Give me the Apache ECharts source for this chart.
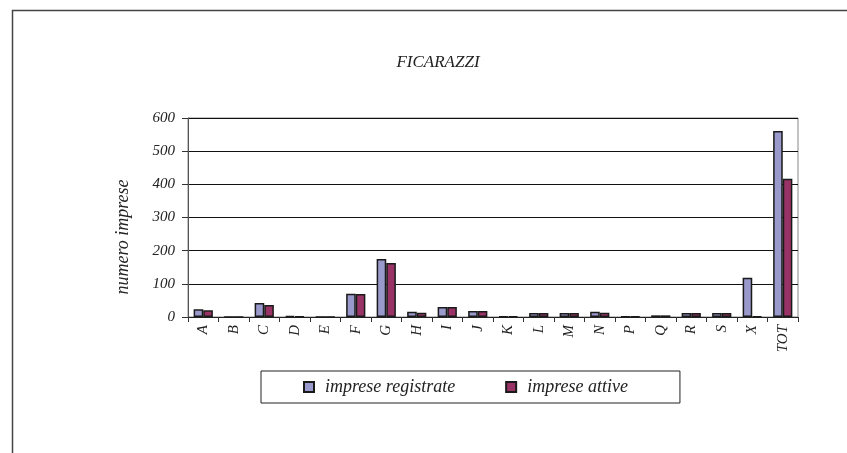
<!DOCTYPE html>
<html>
<head>
<meta charset="utf-8">
<script src="https://cdn.jsdelivr.net/npm/echarts@6/dist/echarts.min.js"></script>
<style>html,body{margin:0;padding:0;background:#fff}#c{width:847px;height:453px}</style>
</head>
<body>
<div id="c"></div>
<script>
const categories = ['A','B','C','D','E','F','G','H','I','J','K','L','M','N','P','Q','R','S','X','TOT'];
const registrate = [23,0,42,3,0,70,175,16,30,18,2,12,12,16,2,5,12,12,118,561];
const attive =     [20,0,36,2,0,69,163,13,30,18,2,12,12,13,1,5,12,12,2,417];
const yTicks = [0,100,200,300,400,500,600];

const serif = 'Liberation Serif';
const chart = echarts.init(document.getElementById('c'));
chart.setOption({
  animation: false,
  backgroundColor: '#fff',
  title: {
    text: 'FICARAZZI', left: 433, top: 49, textAlign: 'center',
    textStyle: {fontFamily: serif, fontStyle: 'italic', fontWeight: 'normal', fontSize: 17, color: '#222'}
  },
  grid: {left: 188, top: 118, width: 610, height: 199, show: true, borderColor: '#888', borderWidth: 1, backgroundColor: 'transparent'},
  legend: {
    left: 261, top: 371,
    padding: [7, 52, 7, 42],
    borderColor: '#222', borderWidth: 1,
    itemWidth: 10, itemHeight: 10, itemGap: 50,
    icon: 'rect',
    textStyle: {fontFamily: serif, fontStyle: 'italic', fontSize: 18, color: '#222', padding: [0, 0, 0, 6]},
    data: ['imprese registrate', 'imprese attive']
  },
  xAxis: {
    type: 'category', data: categories,
    axisLine: {lineStyle: {color: '#222', width: 1}},
    axisTick: {show: true, length: 5, lineStyle: {color: '#333'}},
    axisLabel: {rotate: 90, fontFamily: serif, fontStyle: 'italic', fontSize: 15, color: '#222', margin: 8}
  },
  yAxis: {
    type: 'value', min: 0, max: 600, interval: 100,
    axisLine: {show: true, lineStyle: {color: '#555', width: 1}},
    axisTick: {show: true, length: 6, lineStyle: {color: '#333'}},
    axisLabel: {fontFamily: serif, fontStyle: 'italic', fontSize: 15, color: '#222', margin: 13,
      formatter: v => yTicks.includes(v) ? String(v) : ''},
    splitLine: {lineStyle: {color: '#111', width: 1}}
  },
  graphic: [
    {type: 'rect', shape: {x: 12.5, y: 10.5, width: 1000, height: 600}, style: {fill: 'none', stroke: '#444', lineWidth: 1.5}, silent: true},
    {type: 'text', x: 123, y: 237, rotation: Math.PI / 2, style: {text: 'numero imprese', fontFamily: serif, fontStyle: 'italic', fontSize: 18, fill: '#222', align: 'center', verticalAlign: 'middle'}}
  ],
  series: [
    {name: 'imprese registrate', type: 'bar', data: registrate, barGap: '0%', barCategoryGap: '37%',
      itemStyle: {color: '#9999CC', borderColor: '#1a1a1a', borderWidth: 1.5}},
    {name: 'imprese attive', type: 'bar', data: attive,
      itemStyle: {color: '#993366', borderColor: '#1a1a1a', borderWidth: 1.5}}
  ]
});
</script>
</body>
</html>
